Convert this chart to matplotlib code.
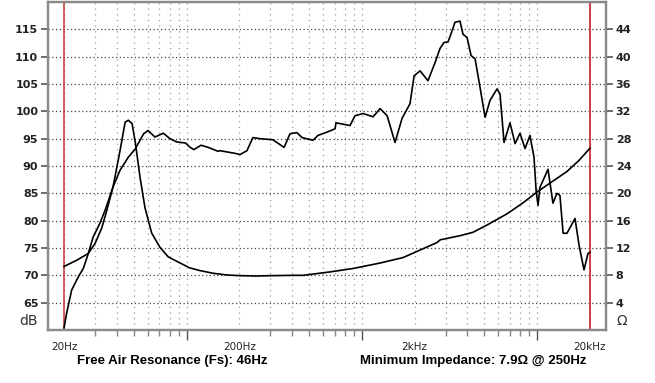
import matplotlib
matplotlib.use("Agg")
import matplotlib.pyplot as plt
import numpy as np

# ---- data ----
spl_freq = [20, 20.7, 22.1, 24.1, 25.8, 27.5, 29.3, 32.0, 34.3, 38.1, 41.7, 46.5, 50.9, 56.9,
            60.3, 66, 73.7, 80.4, 87.9, 98.8, 104, 110, 121, 133, 151, 155, 190, 202, 221,
            239, 262, 311, 360, 389, 426, 456, 526, 562, 633, 703, 712, 856, 914, 1016, 1159,
            1270, 1393, 1546, 1695, 1882, 1986, 2148, 2383, 2614, 2792, 2943, 3103, 3268,
            3398, 3630, 3776, 3981, 4198, 4426, 4721, 5046, 5383, 5902, 6138, 6472, 7000,
            7482, 7980, 8531, 9100, 9594, 9862, 10116, 10375, 11535, 12303, 12972, 13490,
            14060, 14791, 16440, 17340, 18500, 19500, 20000]
spl_db = [60.4, 63.1, 67.3, 69.7, 71.3, 74.0, 77.0, 79.5, 81.9, 86.2, 89.2, 91.6, 93.1, 95.9,
          96.5, 95.3, 96.0, 95.0, 94.4, 94.2, 93.5, 93.0, 93.8, 93.4, 92.7, 92.8, 92.3, 92.1,
          92.8, 95.2, 95.0, 94.8, 93.4, 95.9, 96.1, 95.2, 94.7, 95.6, 96.2, 96.8, 97.9, 97.4,
          99.2, 99.6, 99.0, 100.5, 99.2, 94.3, 98.7, 101.4, 106.5, 107.4, 105.6, 108.9,
          111.5, 112.6, 112.7, 114.7, 116.3, 116.5, 114.1, 113.5, 110.2, 109.6, 104.4, 98.9,
          102.0, 104.1, 103.2, 94.3, 97.9, 94.1, 96.0, 93.2, 95.6, 91.6, 85.5, 82.8, 86.1,
          89.4, 83.2, 85.0, 84.6, 77.7, 77.7, 80.4, 75.5, 71.0, 74.0, 74.2]

imp_freq = [20, 23.6, 27.5, 30.1, 32.8, 34.9, 38.1, 41.7, 44.6, 46.5, 48.9, 51.1, 54.3, 57.9,
            63.2, 70.5, 78.6, 91.9, 104, 119, 142, 170, 202, 250, 300, 400, 462, 658, 891,
            1270, 1718, 2148, 2685, 2800, 3630, 4307, 5383, 6730, 8299, 9984, 12000, 14800,
            17300, 20000]
imp_ohm = [9.3, 10.2, 11.2, 12.7, 14.9, 17.3, 21.0, 26.2, 30.4, 30.7, 30.2, 27.3, 22.3, 17.9,
           14.2, 12.1, 10.7, 9.8, 9.1, 8.7, 8.3, 8.05, 7.95, 7.9, 7.95, 8.0, 8.0, 8.5, 9.0,
           9.8, 10.6, 11.7, 12.8, 13.2, 13.8, 14.3, 15.6, 17.0, 18.6, 20.2, 21.6, 23.2, 24.8,
           26.6]

db_ticks = [65, 70, 75, 80, 85, 90, 95, 100, 105, 110, 115]
ohm_ticks = [4, 8, 12, 16, 20, 24, 28, 32, 36, 40, 44]
x_major = [20, 100, 200, 1000, 2000, 10000, 20000]
x_major_labels = ["20Hz", "", "200Hz", "", "2kHz", "", "20kHz"]
x_minor = [30, 40, 50, 60, 70, 80, 90, 300, 400, 500, 600, 700, 800, 900,
           3000, 4000, 5000, 6000, 7000, 8000, 9000]

fs_text = "Free Air Resonance (Fs): 46Hz"
zmin_text = "Minimum Impedance: 7.9\u03a9 @ 250Hz"

# ---- figure ----
fig = plt.figure(figsize=(6.55, 3.83), dpi=100)
ax = fig.add_axes([48/655, 1-330/383, (606-48)/655, 328/383])
ax2 = ax.twinx()

ax.set_xscale("log")
ax.set_xlim(16.2, 24700)
ax.set_ylim(60, 120)
ax2.set_ylim(0, 48)

spine_c = "#8a8a8a"
for a in (ax, ax2):
    for s in a.spines.values():
        s.set_color(spine_c)
        s.set_linewidth(1.6)

# grids
ax.set_xticks(x_major)
ax.set_xticklabels(x_major_labels, family=["Liberation Sans Narrow", "DejaVu Sans"],
                   fontsize=7.5, color="#222222")
ax.set_xticks(x_minor, minor=True)
ax.xaxis.set_minor_formatter(matplotlib.ticker.NullFormatter())
ax.tick_params(axis="x", which="major", length=7, width=1, color="#555555", pad=2)
ax.tick_params(axis="x", which="minor", length=4, width=1, color="#888888")
for t, lab in zip(ax.xaxis.get_major_ticks(), x_major_labels):
    if lab:
        t.tick1line.set_markersize(0)
ax.grid(True, axis="x", which="both", color="#9a9a9a", linestyle=(0, (1, 3.5)), linewidth=0.9)

ax.set_yticks(db_ticks)
ax.set_yticklabels([str(v) for v in db_ticks], fontsize=8, fontweight="bold", color="#222222")
ax.tick_params(axis="y", which="major", length=5, width=1.2, color="#555555", pad=2)
ax.grid(True, axis="y", which="major", color="#444444", linestyle=(0, (1, 2)), linewidth=0.9)

ax2.set_yticks(ohm_ticks)
ax2.set_yticklabels([str(v) for v in ohm_ticks], fontsize=8, fontweight="bold", color="#222222")
ax2.tick_params(axis="y", which="major", length=5, width=1.2, color="#555555", pad=2)

# red limit lines
ax.axvline(20, color="#cc3333", linewidth=1.1, zorder=3)
ax.axvline(20000, color="#cc3333", linewidth=1.3, zorder=3)

# curves
ax.plot(spl_freq, spl_db, color="black", linewidth=1.2, zorder=4)
ax2.plot(imp_freq, imp_ohm, color="black", linewidth=1.2, zorder=4)

# unit labels
ax.text(-0.018, 60.3, "dB", transform=ax.get_yaxis_transform(), ha="right", va="bottom",
        fontsize=10, color="#333333")
ax2.text(1.018, 0.3, "\u03a9", transform=ax2.get_yaxis_transform(), ha="left", va="bottom",
         fontsize=10, color="#333333")

# bottom texts
fig.text(77/655, 1-361/383, fs_text, ha="left", va="center", fontsize=9.5,
         fontweight="bold", family=["Liberation Sans", "DejaVu Sans"])
fig.text(587/655, 1-361/383, zmin_text, ha="right", va="center", fontsize=9.5,
         fontweight="bold", family=["Liberation Sans", "DejaVu Sans"])

fig.savefig("out.png", dpi=100)
